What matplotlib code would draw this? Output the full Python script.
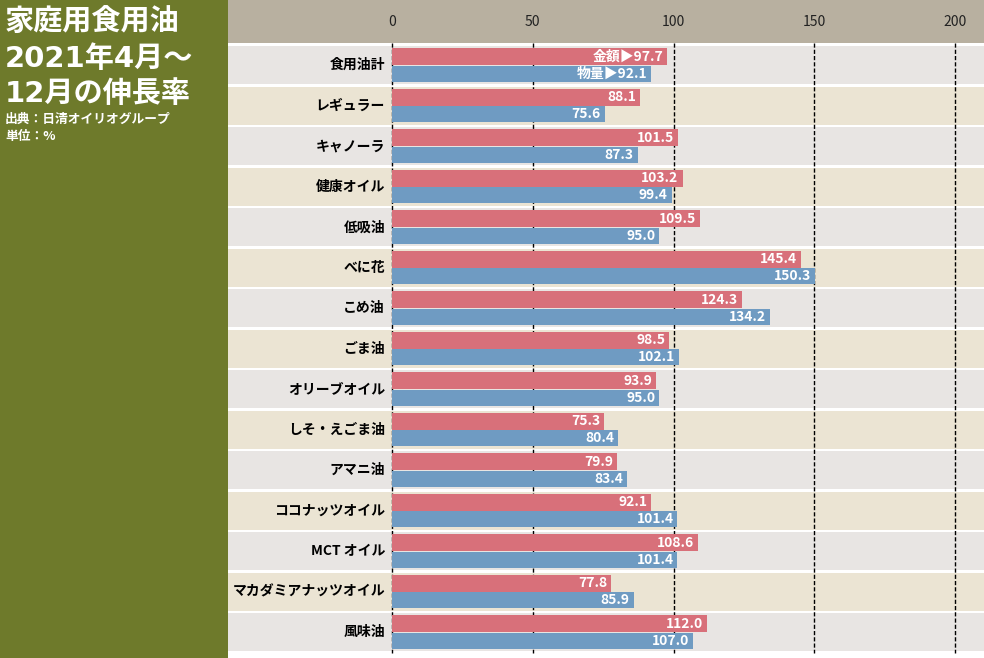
import matplotlib
matplotlib.use("Agg")
import matplotlib.pyplot as plt
from matplotlib.patches import Rectangle

plt.rcParams['font.family'] = ['Noto Sans CJK JP', 'DejaVu Sans']

categories = ["食用油計", "レギュラー", "キャノーラ", "健康オイル", "低吸油", "べに花", "こめ油",
              "ごま油", "オリーブオイル", "しそ・えごま油", "アマニ油", "ココナッツオイル",
              "MCT オイル", "マカダミアナッツオイル", "風味油"]
value_amount = [97.7, 88.1, 101.5, 103.2, 109.5, 145.4, 124.3, 98.5, 93.9, 75.3, 79.9, 92.1, 108.6, 77.8, 112.0]
value_volume = [92.1, 75.6, 87.3, 99.4, 95.0, 150.3, 134.2, 102.1, 95.0, 80.4, 83.4, 101.4, 101.4, 85.9, 107.0]
ticks = [0, 50, 100, 150, 200]
title_lines = ["家庭用食用油", "2021年4月～", "12月の伸長率"]
source_text = "出典：日清オイリオグループ"
unit_text = "単位：%"

W, H = 984, 658
fig = plt.figure(figsize=(W / 100, H / 100), dpi=100)
fig.patch.set_facecolor("white")

# left green panel
fig.patches.append(Rectangle((0, 0), 228 / W, 1, transform=fig.transFigure,
                             facecolor="#6e7a2b", edgecolor="none", zorder=0))
title_family = ["DejaVu Sans", "Noto Sans CJK JP"]
baselines = [31, 67, 102]
for line, yb in zip(title_lines, baselines):
    fig.text(5 / W, (H - yb) / H, line, color="white", fontsize=21, fontweight="bold",
             va="baseline", ha="left", family=title_family)
fig.text(5 / W, (H - 123) / H, source_text, color="white", fontsize=9.2,
         fontweight="bold", va="baseline", ha="left")
fig.text(5 / W, (H - 140) / H, unit_text, color="white", fontsize=9.2,
         fontweight="bold", va="baseline", ha="left")

ax = fig.add_axes([228 / W, 0, (W - 228) / W, 1])
px_per_unit = (955 - 392) / 200.0
xmin = -(392 - 228) / px_per_unit
xmax = (984 - 392) / px_per_unit
row_h = 40.5
row0_top = 45
ytop = -0.5 - row0_top / row_h
ybot = -0.5 + (H - row0_top) / row_h
ax.set_xlim(xmin, xmax)
ax.set_ylim(ybot, ytop)
ax.axis("off")

n = len(categories)
# header band
ax.add_patch(Rectangle((xmin, ytop), xmax - xmin, (43 / row_h), facecolor="#b8b0a0",
                       edgecolor="none", zorder=0))
# row backgrounds
for i in range(n):
    col = "#e8e5e3" if i % 2 == 0 else "#ebe4d3"
    ax.add_patch(Rectangle((xmin, i - 0.5 + 0.03), xmax - xmin, 0.94, facecolor=col,
                           edgecolor="none", zorder=0))

# gridlines
for t in ticks:
    ax.plot([t, t], [ytop + 43 / row_h, n - 0.5], color="black", lw=1,
            linestyle=(0, (3, 1.5)), zorder=1)
    ax.text(t, ytop + 22 / row_h, str(t), ha="center", va="center", fontsize=10,
            color="#222222")

y = list(range(n))
off = 0.21
ax.barh([v - off for v in y], value_amount, height=0.41, color="#d8707a", zorder=2)
ax.barh([v + off for v in y], value_volume, height=0.40, color="#6f9bc2", zorder=2)

for i, (a, b) in enumerate(zip(value_amount, value_volume)):
    la = f"{a:.1f}"
    lb = f"{b:.1f}"
    if i == 0:
        la = "金額▶" + la
        lb = "物量▶" + lb
    ax.text(a - 1.4, i - off, la, ha="right", va="center", color="white",
            fontsize=10, fontweight="bold", zorder=3)
    ax.text(b - 1.4, i + off, lb, ha="right", va="center", color="white",
            fontsize=10, fontweight="bold", zorder=3)
    ax.text(-2.5, i, categories[i], ha="right", va="center", color="black",
            fontsize=10, fontweight="bold", zorder=3)

fig.savefig("out.png", dpi=100, facecolor=fig.get_facecolor())
